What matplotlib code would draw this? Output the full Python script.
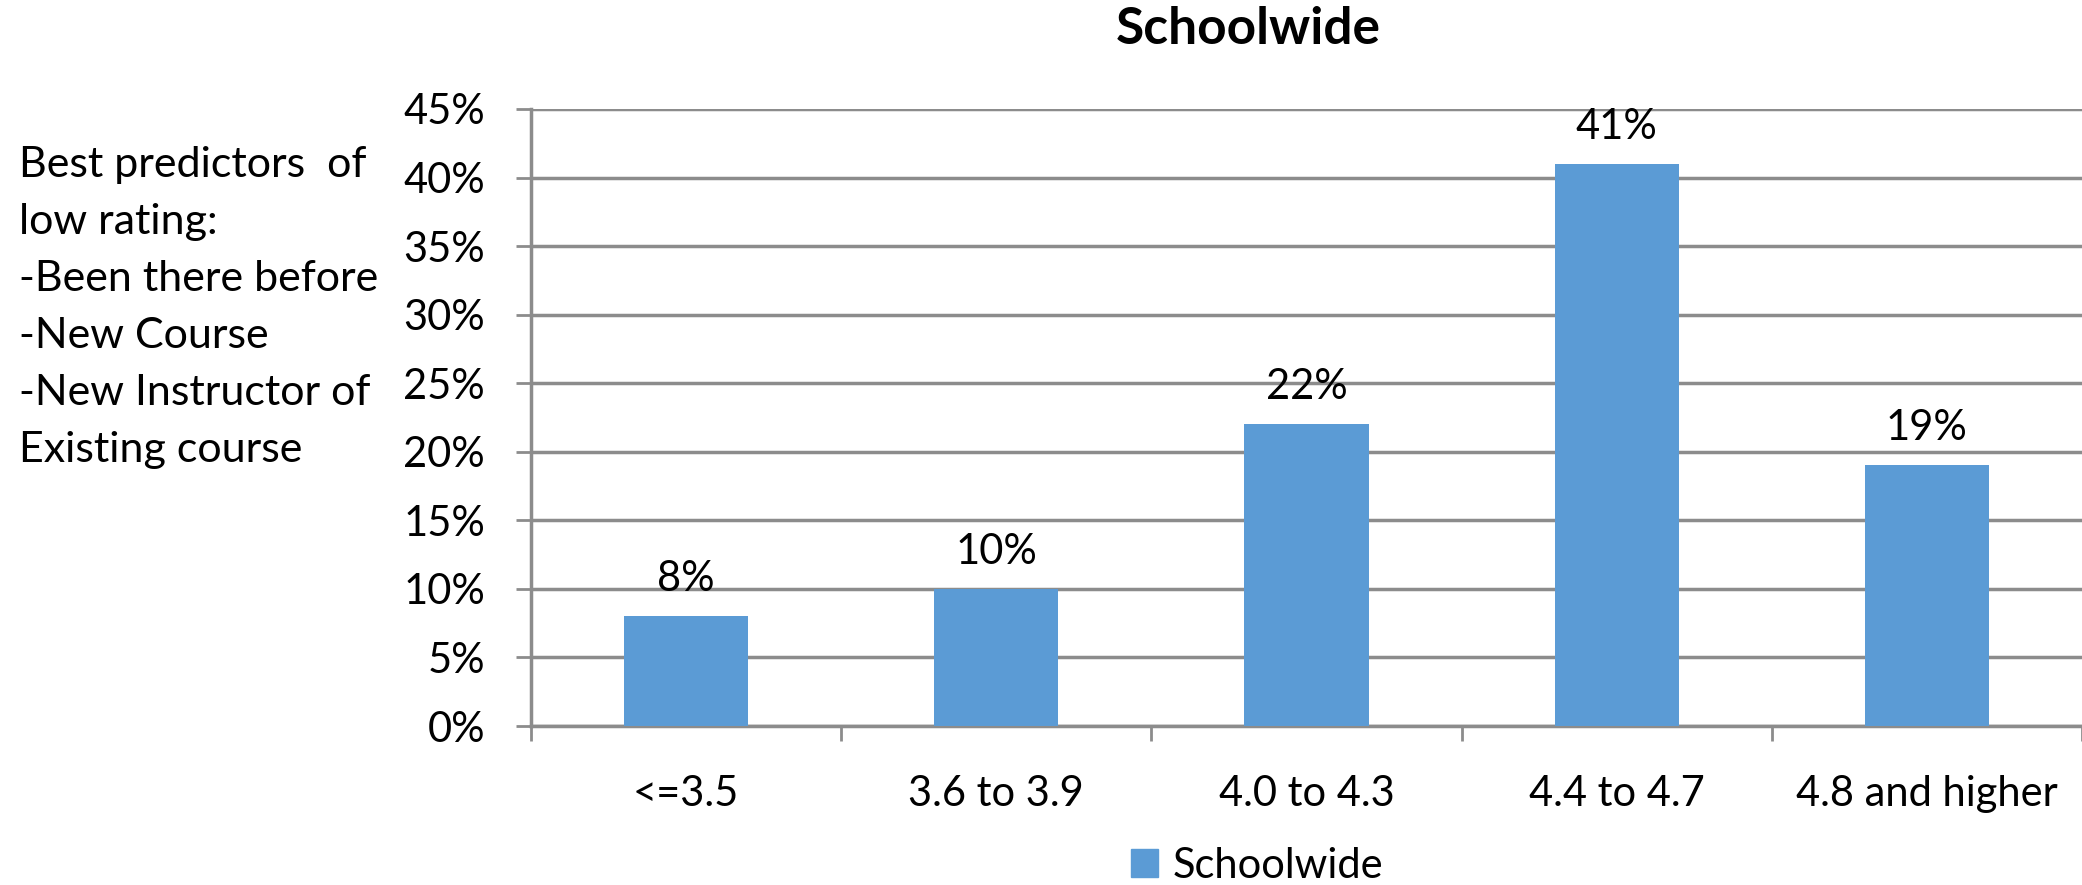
import matplotlib.pyplot as plt
from matplotlib.patches import Patch
from matplotlib.ticker import FixedLocator, PercentFormatter

# rating bins and the share of courses in each (schoolwide)
categories = ["<=3.5", "3.6 to 3.9", "4.0 to 4.3", "4.4 to 4.7", "4.8 and higher"]
shares = [8, 10, 22, 41, 19]
y_ticks = [0, 5, 10, 15, 20, 25, 30, 35, 40, 45]
note_lines = [
    "Best predictors  of",
    "low rating:",
    "-Been there before",
    "-New Course",
    "-New Instructor of",
    "Existing course",
]

plt.rcParams["font.family"] = ["Lato", "DejaVu Sans"]

bar_color = "#5B9BD5"
grid_color = "#8C8C8C"
fs = 30

W, H = 2082, 885
fig = plt.figure(figsize=(W / 100, H / 100), dpi=100)
ax = fig.add_axes([531 / W, (H - 726) / H, (W - 531) / W, 617 / H])

x = list(range(len(categories)))
bars = ax.bar(x, shares, width=0.4, color=bar_color, zorder=3)
for rect, v in zip(bars, shares):
    ax.annotate(f"{v}%", (rect.get_x() + rect.get_width() / 2, v),
                xytext=(0, 18), textcoords="offset points",
                ha="center", va="baseline", fontsize=fs)

ax.set_xlim(-0.5, len(categories) - 0.5)
ax.set_ylim(0, 45)
ax.yaxis.set_major_locator(FixedLocator(y_ticks))
ax.yaxis.set_major_formatter(PercentFormatter(decimals=0))
ax.set_xticks(x)
ax.set_xticklabels(categories)
ax.set_xticks([i - 0.5 for i in range(len(categories) + 1)], minor=True)

ax.tick_params(axis="x", which="major", length=0, pad=35, labelsize=fs)
ax.tick_params(axis="x", which="minor", length=11, width=2, color=grid_color)
ax.tick_params(axis="y", length=11, width=2, color=grid_color, pad=22, labelsize=fs)

ax.grid(axis="y", color=grid_color, lw=2.5, zorder=0)
for side in ["top", "right"]:
    ax.spines[side].set_visible(False)
for side in ["left", "bottom"]:
    ax.spines[side].set_color(grid_color)
    ax.spines[side].set_linewidth(2.5)

fig.text(1248 / W, 1 - 30 / H, "Schoolwide", ha="center", va="center",
         fontsize=37, fontweight="bold")

# side note, one line every 57 px starting at baseline 177 px from the top
for i, line in enumerate(note_lines):
    fig.text(19 / W, 1 - (177 + 57 * i) / H, line, ha="left", va="baseline",
             fontsize=31)

fig.legend(handles=[Patch(color=bar_color, label="Schoolwide")],
           loc="center", bbox_to_anchor=(1257 / W, 1 - 866 / H), frameon=False,
           fontsize=fs, handlelength=0.65, handleheight=0.65, handletextpad=0.34,
           borderpad=0)

fig.savefig("out.png", dpi=100)
